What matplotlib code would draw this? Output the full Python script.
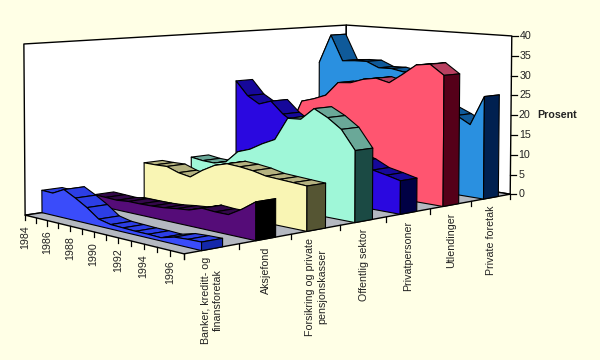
import numpy as np
import matplotlib
matplotlib.use('Agg')
import matplotlib.pyplot as plt

plt.rcParams['font.family'] = ['Liberation Sans', 'DejaVu Sans']

years = list(range(1984, 1998))
year_labels = [1984, 1986, 1988, 1990, 1992, 1994, 1996]
value_ticks = [0, 5, 10, 15, 20, 25, 30, 35, 40]
categories = ['Banker, kreditt- og\nfinansforetak', 'Aksjefond',
              'Forsikring og private\npensjonskasser', 'Offentlig sektor',
              'Privatpersoner', 'Utlendinger', 'Private foretak']

banker = [5.3, 5.2, 6.6, 5.2, 3.6, 1.6, 1.0, 0.9, 0.8, 0.8, 0.7, 1.5, 1.7, 1.8]
aksjefond = [2.5, 2.4, 2.3, 2.6, 2.6, 2.7, 2.9, 3.3, 3.6, 4.6, 4.4, 4.4, 6.2, 8.4]
forsikring = [8.7, 8.7, 8.8, 7.8, 7.3, 9.4, 11.1, 12.0, 11.8, 11.4, 10.7, 10.5, 10.3, 10.1]
offentlig = [8.6, 8.2, 8.1, 8.9, 11.9, 13.0, 14.8, 16.3, 21.8, 22.0, 24.9, 23.2, 20.9, 16.5]
privat = [27.1, 23.6, 21.8, 22.9, 20.0, 18.0, 16.0, 14.0, 13.0, 12.0, 11.0, 9.4, 8.7, 7.9]
utland = [12.0, 14.0, 21.4, 22.4, 23.7, 27.3, 27.6, 28.8, 29.4, 28.6, 31.0, 33.6, 34.1, 31.7]
foretak = [30.2, 37.9, 31.2, 31.5, 31.6, 30.2, 30.3, 29.7, 28.0, 26.0, 21.5, 20.0, 18.1, 25.5]
series = [banker, aksjefond, forsikring, offentlig, privat, utland, foretak]

# side, top strip and end cap colour per series
colours = [('#3a4cfa', '#2c3ee6', '#1428aa'),
           ('#550c78', '#33074a', '#000000'),
           ('#f9f5b4', '#b5b280', '#555533'),
           ('#9ff7d8', '#6aa898', '#1b4a44'),
           ('#2a08e0', '#16089a', '#000044'),
           ('#ff5570', '#b84060', '#550019'),
           ('#2a90e0', '#0f5a9a', '#002050')]
bg = '#ffffe6'
floor = '#b4b8c0'

# Box corners (category, year index, value) and where they sit in the picture,
# used to fit a perspective projection like the old Excel 3D area chart.
n_cat, n_year = len(categories), len(years) - 1
box = [(0, 0, 0), (0, n_year, 0), (n_cat, n_year, 0), (n_cat, 0, 0),
       (0, 0, 40), (n_cat, 0, 40), (n_cat, n_year, 40)]
pix = [(25, 215), (184, 254), (510, 194), (346, 168),
       (24, 44), (346, 25), (512, 36)]
A, b = [], []
for (X, Y, Z), (u, v) in zip(box, pix):
    A.append([X, Y, Z, 1, 0, 0, 0, 0, -u*X, -u*Y, -u*Z])
    A.append([0, 0, 0, 0, X, Y, Z, 1, -v*X, -v*Y, -v*Z])
    b += [u, v]
P = np.append(np.linalg.lstsq(np.array(A, float), np.array(b, float), rcond=None)[0], 1).reshape(3, 4)

def proj(c, t, z):
    q = P @ np.array([c, t, z, 1.0])
    return q[0]/q[2], q[1]/q[2]

fig = plt.figure(figsize=(6, 3.6), dpi=100, facecolor=bg)
ax = fig.add_axes([0, 0, 1, 1])
ax.set_xlim(0, 600)
ax.set_ylim(360, 0)
ax.axis('off')

def poly(points, fc, z, lw=0.8):
    ax.fill(*zip(*[proj(*p) for p in points]), fc=fc, ec='black', lw=lw, zorder=z, joinstyle='round')

# walls and floor
poly([(0, 0, 0), (n_cat, 0, 0), (n_cat, 0, 40), (0, 0, 40)], 'white', 1, 1.0)
poly([(n_cat, 0, 0), (n_cat, n_year, 0), (n_cat, n_year, 40), (n_cat, 0, 40)], 'white', 1, 1.0)
poly([(0, 0, 0), (0, n_year, 0), (n_cat, n_year, 0), (n_cat, 0, 0)], floor, 1, 1.0)

# bands, back to front
zo = 2
for k in range(n_cat - 1, -1, -1):
    vals = series[k]
    c0, c1 = k + 0.31, k + 0.69
    side, top, cap = colours[k]
    for t in range(n_year):
        poly([(c0, t, vals[t]), (c1, t, vals[t]), (c1, t + 1, vals[t + 1]), (c0, t + 1, vals[t + 1])], top, zo)
        zo += 1
    outline = [(c0, 0, 0)] + [(c0, t, vals[t]) for t in range(n_year + 1)] + [(c0, n_year, 0)]
    poly(outline, side, zo)
    zo += 1
    poly([(c0, n_year, 0), (c1, n_year, 0), (c1, n_year, vals[-1]), (c0, n_year, vals[-1])], cap, zo)
    zo += 1

# year axis
for t, yr in enumerate(years):
    x, y = proj(0, t, 0)
    ax.plot([x, x], [y, y + 5], color='black', lw=0.9, zorder=1)
    if yr in year_labels:
        ax.text(x, y + 10, str(yr), rotation=90, ha='center', va='top', fontsize=7.7, color='#222222')

# category axis
for k in range(n_cat + 1):
    x, y = proj(k, n_year, 0)
    ax.plot([x, x], [y, y + 5], color='black', lw=0.9, zorder=1)
for k, name in enumerate(categories):
    x, y = proj(k + 0.5, n_year, 0)
    ax.text(x, y + 8, name, rotation=90, ha='center', va='top', fontsize=7.7,
            color='#222222', multialignment='center', linespacing=1.25)

# value axis
for v in value_ticks:
    x, y = proj(n_cat, n_year, v)
    ax.plot([x, x + 6], [y, y], color='black', lw=0.9, zorder=1)
    ax.text(x + 8, y, str(v), ha='left', va='center', fontsize=7.7, color='#222222')
ax.text(537, 115, 'Prosent', ha='left', va='center', fontsize=7.7, fontweight='bold', color='#222222')

fig.savefig('out.png', dpi=100, facecolor=bg)
